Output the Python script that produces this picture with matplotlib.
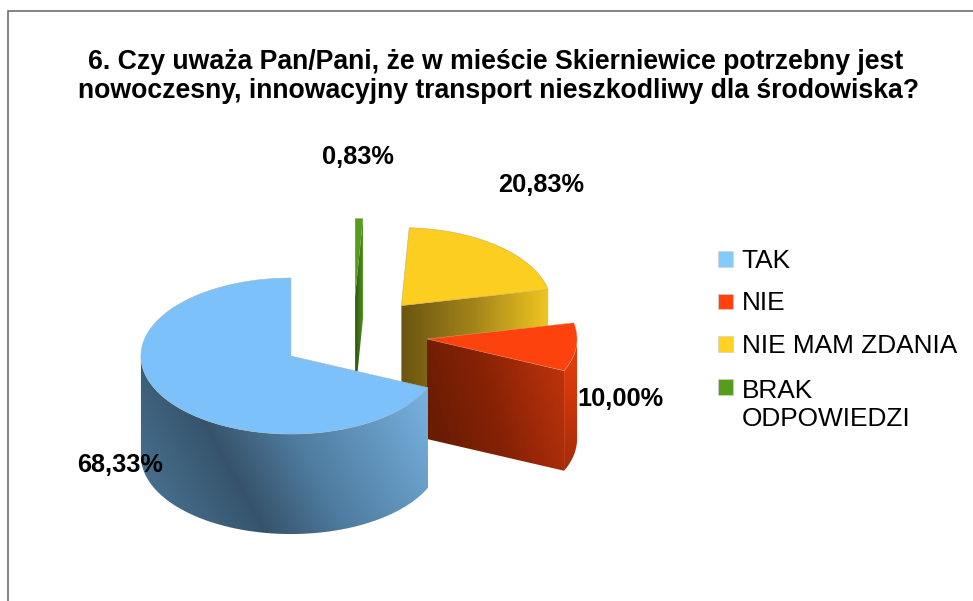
import numpy as np
import matplotlib
matplotlib.use("Agg")
import matplotlib.pyplot as plt
from matplotlib.patches import Polygon, Rectangle
from matplotlib.colors import to_rgb

# ---- data ----
categories = ["TAK", "NIE", "NIE MAM ZDANIA", "BRAK\nODPOWIEDZI"]
values = [68.33, 10.00, 20.83, 0.83]
value_labels = ["68,33%", "10,00%", "20,83%", "0,83%"]
title = ("6. Czy uważa Pan/Pani, że w mieście Skierniewice potrzebny jest \n"
         "nowoczesny, innowacyjny transport nieszkodliwy dla środowiska?")

# ---- style ----
W, H = 973, 601
CX, CY = 353.2, 335.0      # pie centre
RX, RY = 150.0, 78.0       # projected radii
DEPTH = 100.0              # extrusion
EXPLODE = 0.495
START = 90.0               # first slice starts at 12 o'clock, counter-clockwise
top_colors = ["#7cc1f9", "#fd420e", "#fbce20", "#579d1c"]
legend_colors = ["#83caff", "#ff420e", "#ffd320", "#579d1c"]
FONT = "Liberation Sans"
label_pos = [(120, 464.5), (620, 398.5), (541, 185.5), (358, 157)]

fig = plt.figure(figsize=(W / 100, H / 100), dpi=100, facecolor="white")
ax = fig.add_axes([0, 0, 1, 1])
ax.set_xlim(0, W)
ax.set_ylim(H, 0)
ax.axis("off")


def rim(cx, cy, a):
    a = np.radians(a)
    return cx + RX * np.cos(a), cy - RY * np.sin(a)


def gradient(poly, tfunc, stops, z):
    """Fill polygon with colours interpolated over tfunc(x, y)."""
    poly = np.asarray(poly)
    x0, x1 = np.floor(poly[:, 0].min()), np.ceil(poly[:, 0].max())
    y0, y1 = np.floor(poly[:, 1].min()), np.ceil(poly[:, 1].max())
    xs = np.arange(x0, x1 + 1) + .0
    ys = np.arange(y0, y1 + 1) + .0
    X, Y = np.meshgrid(xs, ys)
    t = tfunc(X, Y)
    pos = [s[0] for s in stops]
    rgb = np.array([to_rgb(s[1]) for s in stops])
    img = np.dstack([np.interp(t, pos, rgb[:, i]) for i in range(3)])
    im = ax.imshow(img, extent=(x0, x1, y1, y0), aspect="auto", zorder=z,
                   interpolation="bilinear")
    clip = Polygon(poly, closed=True, transform=ax.transData)
    im.set_clip_path(clip)


# slice angles derived from the values
total = sum(values)
spans = []
a = START
for v in values:
    b = a + 360.0 * v / total
    spans.append((a, b))
    a = b

centres = []
for a, b in spans:
    mid = np.radians((a + b) / 2)
    centres.append((CX + EXPLODE * RX * np.cos(mid), CY - EXPLODE * RY * np.sin(mid)))


def top_poly(c, a, b):
    ang = np.linspace(a, b, 200)
    xs, ys = rim(c[0], c[1], ang)
    return np.vstack([[c], np.column_stack([xs, ys])])


def radial_face(c, a):
    x, y = rim(c[0], c[1], a)
    return np.array([c, (x, y), (x, y + DEPTH), (c[0], c[1] + DEPTH)])


def wall(c, a, b):
    ang = np.linspace(a, b, 200)
    xs, ys = rim(c[0], c[1], ang)
    return np.vstack([np.column_stack([xs, ys]),
                      np.column_stack([xs, ys + DEPTH])[::-1]])


def along(x0, x1):
    return lambda X, Y: (X - x0) / (x1 - x0)


# green (back)
cg = centres[3]
ag, bg = spans[3]
f = radial_face(cg, ag)
gradient(f, along(f[:, 0].min(), f[:, 0].max()),
         [(0, "#2c5410"), (1, "#4f8f1a")], 2)
ax.add_patch(Polygon(top_poly(cg, ag, bg), closed=True, facecolor=top_colors[3],
                     edgecolor="none", zorder=2.1))

# yellow
cy_ = centres[2]
ay, by = spans[2]
ay_n = ay % 360
f = radial_face(cy_, ay_n)
gradient(f, along(f[:, 0].min(), f[:, 0].max()),
         [(0, "#6b5510"), (0.5, "#a4851a"), (1, "#efc621")], 3)
ax.add_patch(Polygon(top_poly(cy_, ay_n, by % 360 if by % 360 > ay_n else by), closed=True,
                     facecolor=top_colors[2], edgecolor="#c8b060", lw=0.4, zorder=3.1))

# red
cr = centres[1]
ar, br = spans[1]
f = radial_face(cr, ar)
w = wall(cr, ar, 360.0)
gradient(w, lambda X, Y: (Y - (cr[1] + 30)) / 100,
         [(0, "#dd3c0c"), (1, "#a52b08")], 4)
gradient(f, lambda X, Y: ((X - f[0, 0]) * 0.95 - (Y - f[0, 1] - 60) * 0.3) / 135,
         [(0, "#6a1c03"), (0.45, "#872205"), (1, "#bb320c")], 4.1)
ax.add_patch(Polygon(top_poly(cr, ar, br), closed=True, facecolor=top_colors[1],
                     edgecolor="#e0a080", lw=0.3, zorder=4.2))

# blue (front)
cb = centres[0]
ab, bb = spans[0]
w = wall(cb, 180.0, bb)
gradient(w, lambda X, Y: ((X - 203) * 0.87 - (Y - 420) * 0.49) / 205,
         [(-0.4, "#47708f"), (0, "#36536b"), (0.35, "#4f7c9f"), (1, "#76b0df")], 5)
ax.add_patch(Polygon(top_poly(cb, ab, bb), closed=True, facecolor=top_colors[0],
                     edgecolor="#a0b8c8", lw=0.4, zorder=5.1))

ax.set_xlim(0, W)
ax.set_ylim(H, 0)

# value labels
for txt, (x, y) in zip(value_labels, label_pos):
    ax.text(x, y, txt, family=FONT, fontsize=18.3, fontweight="bold",
            ha="center", va="center", color="black", zorder=10)

# title
ax.text(499, 98, title, family=FONT, fontsize=19.2, fontweight="bold", ha="center",
        va="baseline", multialignment="center", linespacing=1.17, zorder=10)

# legend
baselines = [267.7, 310.3, 352.8, 425.7]
for i, (name, col, yb) in enumerate(zip(categories, legend_colors, baselines)):
    ytop = 251 + i * 42.7
    ax.add_patch(Rectangle((717.5, ytop), 15.5, 15.5, facecolor=col,
                           edgecolor="#d0d0d0", lw=0.5, zorder=10))
    ax.text(741.5, yb, name, family=FONT, fontsize=18.9, ha="left", va="baseline",
            linespacing=1.19, color="black", zorder=10)

# chart border (top and left visible)
ax.plot([8, 8, 973], [601, 11, 11], color="#707070", lw=1.2, zorder=11,
        solid_joinstyle="miter", clip_on=False)

fig.savefig("out.png", dpi=100, facecolor="white")
